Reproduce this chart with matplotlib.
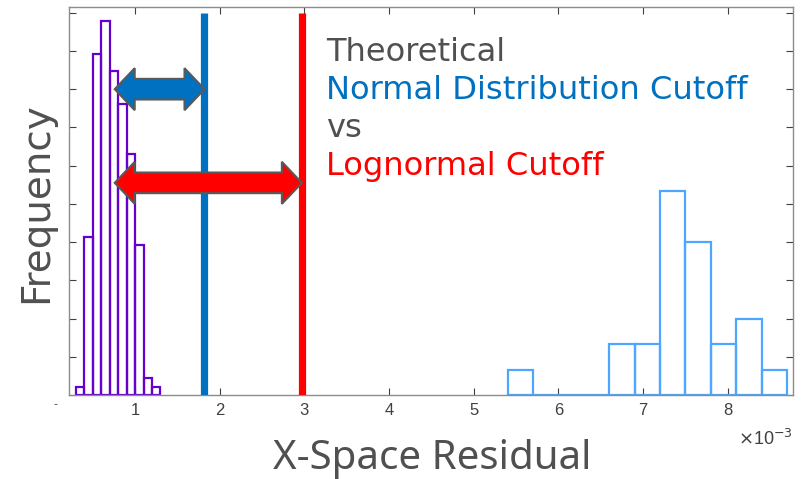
import numpy as np
import matplotlib.pyplot as plt
from matplotlib.patches import Polygon

# residuals are in units of 1e-3
low_edges = [0.3, 0.4, 0.5, 0.6, 0.7, 0.8, 0.9, 1.0, 1.1, 1.2, 1.3]
low_counts = [1, 19, 41, 45, 39, 35, 29, 18, 2, 1]
high_edges = [5.4, 5.7, 6.0, 6.3, 6.6, 6.9, 7.2, 7.5, 7.8, 8.1, 8.4, 8.7]
high_counts = [1, 0, 0, 0, 2, 2, 8, 6, 2, 3, 1]

normal_cutoff = 1.82
lognormal_cutoff = 2.97
cutoff_top = 2000
arrow_start = 0.76
x_ticks = [1, 2, 3, 4, 5, 6, 7, 8]

GRAY = '#505050'
BLUE = '#0070C0'
RED = '#FF0000'


def pdf(counts, edges):
    counts = np.asarray(counts, float)
    widths = np.diff(edges) * 1e-3
    return counts / (counts.sum() * widths)


def double_arrow(ax, x0, x1, y, color):
    hl, sh, hh = 0.236, 54, 110
    pts = [(x0, y), (x0 + hl, y + hh), (x0 + hl, y + sh), (x1 - hl, y + sh),
           (x1 - hl, y + hh), (x1, y), (x1 - hl, y - hh), (x1 - hl, y - sh),
           (x0 + hl, y - sh), (x0 + hl, y - hh)]
    ax.add_patch(Polygon(pts, closed=True, facecolor=color, edgecolor='#595959',
                         lw=1.5, zorder=5))


fig = plt.figure(figsize=(8.06, 4.79), dpi=100)
ax = fig.add_axes([69 / 806, 1 - 395 / 479, 724 / 806, 388 / 479])

ax.bar(low_edges[:-1], pdf(low_counts, low_edges), width=np.diff(low_edges),
       align='edge', fill=False, edgecolor='#6600CC', lw=1.6, zorder=2)
ax.bar(high_edges[:-1], pdf(high_counts, high_edges), width=np.diff(high_edges),
       align='edge', fill=False, edgecolor='#4DA6FF', lw=1.6, zorder=2)

ax.vlines([normal_cutoff], 0, cutoff_top, color=BLUE, lw=5.2, zorder=3)
ax.vlines([lognormal_cutoff], 0, cutoff_top, color=RED, lw=5.2, zorder=3)

double_arrow(ax, arrow_start, normal_cutoff, 1600, BLUE)
double_arrow(ax, arrow_start, lognormal_cutoff, 1110, RED)

txt = dict(fontsize=23.1, family='DejaVu Sans', va='baseline', ha='left')
ax.text(3.26, 1750, 'Theoretical', color=GRAY, **txt)
ax.text(3.26, 1550, 'Normal Distribution Cutoff', color=BLUE, **txt)
ax.text(3.26, 1350, 'vs', color=GRAY, **txt)
ax.text(3.26, 1150, 'Lognormal Cutoff', color=RED, **txt)

ax.set_xlim(0.22, 8.77)
ax.set_ylim(0, 2030)
ax.set_xticks(x_ticks)
ax.set_xticklabels([str(t) for t in x_ticks], family='Liberation Sans',
                   fontsize=12, color='#404040')
ax.set_yticks(np.arange(0, 2001, 200))
ax.set_yticklabels([])
ax.tick_params(direction='in', top=True, right=True, length=5, width=0.8,
               color='#404040', pad=6)
for s in ax.spines.values():
    s.set_color('#8c8c8c')
    s.set_linewidth(1.0)

ax.text(-0.016, -0.01, '-', transform=ax.transAxes, ha='right', va='top',
        fontsize=8, color='#404040')
ax.text(1.0, -0.129, r'$\times$10$^{-3}$', transform=ax.transAxes, ha='right',
        va='baseline', fontsize=13, color='#404040', family='Liberation Sans')

fig.text(432 / 806, 1 - 469 / 479, 'X-Space Residual', family='Noto Sans',
         fontsize=29, color=GRAY, ha='center', va='baseline')
fig.text(47 / 806, 1 - 203 / 479, 'Frequency', family='DejaVu Sans',
         fontsize=28, color=GRAY, rotation=90, rotation_mode='anchor',
         ha='center', va='baseline')

fig.savefig('out.png', dpi=100)
